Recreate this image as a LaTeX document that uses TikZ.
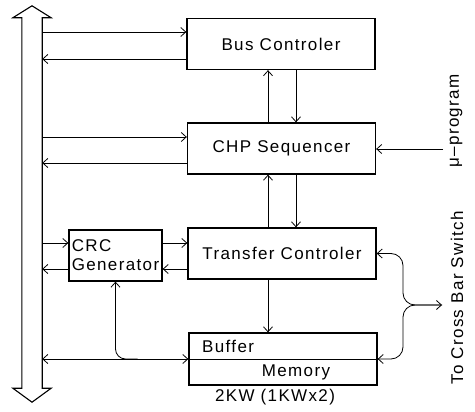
\documentclass[tikz,border=0pt]{standalone}
\usepackage{fontspec}
\setmainfont{Liberation Sans}[LetterSpace=8]
\usetikzlibrary{positioning,arrows.meta,calc}
\tikzset{
  >={Straight Barb[length=5pt,width=9pt]},
  box/.style={draw, line width=1.3pt, minimum width=188pt, minimum height=51pt, inner sep=0pt, align=center,
    font=\fontsize{17}{19}\selectfont},
  lab/.style={font=\fontsize{17}{19}\selectfont, inner sep=0pt},
  flow/.style={->, line width=0.8pt},
  busline/.style={line width=1.1pt},
}
\begin{document}
\begin{tikzpicture}[x=1pt, y=-1pt]
    \useasboundingbox (0,0) rectangle (475,412);
    % system bus
    \node[minimum width=20pt, minimum height=370pt, inner sep=0pt] (bus) at (32,203) {};
    \draw[busline] (bus.south west) -- (bus.north west) -- ++(-9,0) -- ($(bus.north)+(0,-12)$)
      -- ($(bus.north east)+(9,0)$) -- (bus.north east) -- (bus.south east) -- ++(9,0)
      -- ($(bus.south)+(0,14)$) -- ($(bus.south west)+(-9,0)$) -- cycle;
    % blocks
    \node[box] (bc)  at (281,44)    {Bus Controler};
    \node[box] (seq) at (281.5,148.5) {CHP Sequencer};
    \node[box] (tc)  at (282,253.5) {Transfer Controler};
    \node[box, minimum width=93pt, align=left] (crc) at (115.5,255.5) {CRC\\Generator};
    \node[box, minimum height=52pt] (buf) at (283,359) {};
    \draw[line width=0.8pt] (buf.west) -- (buf.east);
    \node[lab, anchor=west] (buftxt) at (202,346) {Buffer};
    \node[lab] (memtxt) at (296,372) {Memory};
    % outside labels
    \node[lab, rotate=90] (mu) at (456,121) {μ–program};
    \node[lab, rotate=90] (xbarlab) at (457,298) {To Cross Bar Switch};
    \node[lab] (size) at (275,397) {2KW (1KWx2)};
    % tap points
    \coordinate (bc-a)  at ($(bc.west)+(0,-12)$);
    \coordinate (bc-b)  at ($(bc.west)+(0,15)$);
    \coordinate (seq-a) at ($(seq.west)+(0,-11.5)$);
    \coordinate (seq-b) at ($(seq.west)+(0,14.5)$);
    \coordinate (crc-a) at ($(crc.west)+(0,-12.5)$);
    \coordinate (crc-b) at ($(crc.west)+(0,13.5)$);
    \coordinate (lane-up) at (268,0);
    \coordinate (lane-dn) at (296,0);
    \coordinate (mu-in) at (443,149);
    \coordinate (crc-tap) at ($(crc.south |- buf.west)+(22,0)$);
    \coordinate (fork) at (403,305);
    \coordinate (xbar) at (442,305);
    % bus <-> blocks
    \draw[flow] (bc-a -| bus.east) -- (bc-a);
    \draw[flow] (bc-b) -- (bc-b -| bus.east);
    \draw[flow] (seq-a -| bus.east) -- (seq-a);
    \draw[flow] (seq-b) -- (seq-b -| bus.east);
    \draw[flow] (crc-a -| bus.east) -- (crc-a);
    \draw[flow] (crc-b) -- (crc-b -| bus.east);
    \draw[flow, <->] (buf.west -| bus.east) -- (buf.west);
    % between blocks
    \draw[flow] (seq.north -| lane-up) -- (bc.south -| lane-up);
    \draw[flow] (bc.south -| lane-dn) -- (seq.north -| lane-dn);
    \draw[flow] (tc.north -| lane-up) -- (seq.south -| lane-up);
    \draw[flow] (seq.south -| lane-dn) -- (tc.north -| lane-dn);
    \draw[flow] (crc-a -| crc.east) -- (crc-a -| tc.west);
    \draw[flow] (crc-b -| tc.west) -- (crc-b -| crc.east);
    \draw[flow] (tc.south -| lane-up) -- (buf.north -| lane-up);
    \draw[flow, rounded corners=10pt] (crc-tap) -| (crc.south);
    \draw[flow] (mu-in) -- (mu-in -| seq.east);
    % cross bar switch
    \draw[flow, <->, rounded corners=12pt] (tc.east) -| (fork) -- (xbar);
    \draw[flow, <-, rounded corners=12pt] (buf.east) -| (fork) -- (xbar);
\end{tikzpicture}
\end{document}
